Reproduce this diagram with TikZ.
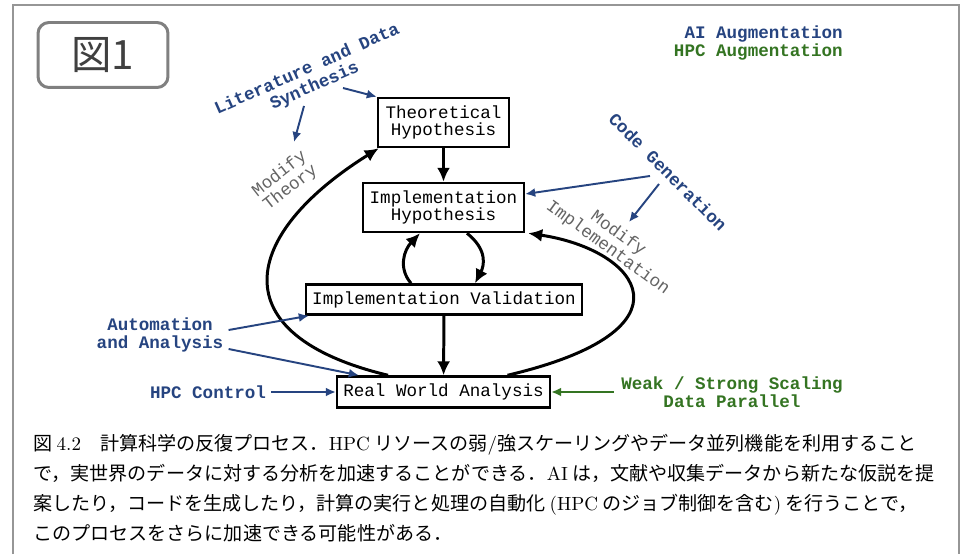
\documentclass[tikz,border=0pt]{standalone}
\usepackage{fontspec}
\setmonofont{Liberation Mono}
\newfontfamily\jpfont{Noto Sans CJK JP}
\usetikzlibrary{arrows.meta}
\definecolor{aiblue}{RGB}{38,68,128}
\definecolor{hpcgreen}{RGB}{52,116,34}
\definecolor{modgray}{RGB}{100,100,100}
\definecolor{framegray}{RGB}{150,150,150}

\begin{document}
\begin{tikzpicture}[x=0.02cm,y=-0.02cm]
		\tikzset{stepbox/.style={draw,line width=1.4pt,inner sep=0pt,align=center,font=\ttfamily\fontsize{10}{9.8}\selectfont},
			flow/.style={-{Latex[length=2.8mm,width=2.6mm]},line width=1.7pt},
			aiarrow/.style={-{Latex[length=2mm,width=1.8mm]},line width=1.1pt,aiblue},
			hpcarrow/.style={-{Latex[length=2mm,width=1.8mm]},line width=1.1pt,hpcgreen},
			ailabel/.style={text=aiblue,align=center,inner sep=0pt,font=\ttfamily\bfseries\fontsize{10}{10.4}\selectfont},
			hpclabel/.style={text=hpcgreen,align=center,inner sep=0pt,font=\ttfamily\bfseries\fontsize{10}{10.4}\selectfont},
			modlabel/.style={text=modgray,align=center,inner sep=0pt,font=\ttfamily\fontsize{10}{10}\selectfont}};
		\useasboundingbox (0,0) rectangle (966,554);
		\fill[white] (0,0) rectangle (966,554);
		% outer frame and figure tag
		\draw[framegray,line width=1.2pt] (13,554) -- (13,5) -- (959,5) -- (959,554);
		\node[draw=gray,line width=1.7pt,rounded corners=2.2mm,minimum width=26mm,minimum height=13mm,text=black!75,font=\jpfont\fontsize{23}{23}\selectfont] (tag) at (103,55) {図1};
		% legend
		\node[anchor=north east,align=right,inner sep=0pt,font=\ttfamily\bfseries\fontsize{10}{10.2}\selectfont] (legend) at (843,25) {\textcolor{aiblue}{AI Augmentation}\\\textcolor{hpcgreen}{HPC Augmentation}};
		% process boxes
		\node[stepbox,minimum width=26.2mm,minimum height=9.8mm] (th) at (443.5,122.5) {Theoretical\\Hypothesis};
		\node[stepbox,minimum width=32.2mm,minimum height=9.8mm] (ih) at (443.5,207.5) {Implementation\\Hypothesis};
		\node[stepbox,minimum width=55.2mm,minimum height=6mm] (iv) at (444,299.5) {Implementation Validation};
		\node[stepbox,minimum width=42.6mm,minimum height=6.2mm] (rw) at (443.5,392) {Real World Analysis};
		\draw[flow] (th) -- (ih);
		\draw[flow] (iv) -- (rw);
		\draw[flow] ([xshift=-6.6mm]iv.north) .. controls (398,268) and (404,250) .. ([xshift=-4.7mm]ih.south);
		\draw[flow] ([xshift=4.7mm]ih.south) .. controls (488,250) and (484,266) .. ([xshift=6.2mm]iv.north);
		\draw[flow] ([xshift=-11.1mm]rw.north) .. controls (220,335) and (240,235) .. ([xshift=0.4mm]th.south west);
		\draw[flow] ([xshift=12.8mm]rw.north) .. controls (700,330) and (640,250) .. ([xshift=0.6mm]ih.south east);
		% side labels
		\node[modlabel,rotate=38] (mt) at (285,181) {Modify\\Theory};
		\node[modlabel,rotate=-36] (mi) at (613,241) {Modify\\Implementation};
		\node[ailabel,rotate=24] (lit) at (311,78) {Literature and Data\\Synthesis};
		\node[ailabel,rotate=-45] (cg) at (668,172) {Code Generation};
		\node[ailabel] (aut) at (160,335) {Automation\\and Analysis};
		\node[ailabel] (hpcc) at (208,392) {HPC Control};
		\node[hpclabel] (weak) at (732,392) {Weak / Strong Scaling\\Data Parallel};
		\coordinate (lit1) at (343,88);
		\coordinate (lit2) at (304,106);
		\coordinate (mt1) at (294,142);
		\coordinate (cg1) at (650,176);
		\coordinate (cg2) at (659,184);
		\coordinate (mi1) at (629,222);
		\draw[aiarrow] (lit1) -- (th.north west);
		\draw[aiarrow] (lit2) -- (mt1);
		\draw[aiarrow] (cg1) -- ([yshift=2.7mm]ih.east);
		\draw[aiarrow] (cg2) -- (mi1);
		\draw[aiarrow] ([xshift=1mm,yshift=1mm]aut.east) -- ([xshift=0.8mm]iv.south west);
		\draw[aiarrow] ([xshift=1mm,yshift=-2.8mm]aut.east) -- ([xshift=4.6mm]rw.north west);
		\draw[aiarrow] ([xshift=1mm]hpcc.east) -- (rw.west);
		\draw[hpcarrow] ([xshift=-1.4mm]weak.west) -- (rw.east);
		% caption
		\node[anchor=north west,align=left,inner sep=0pt,font=\jpfont\fontsize{10.85}{17}\selectfont] (cap) at (33,434) {図 {\rmfamily 4.2}\quad 計算科学の反復プロセス．{\rmfamily HPC} リソースの弱{\rmfamily /}強スケーリングやデータ並列機能を利用すること\\
で，実世界のデータに対する分析を加速することができる．{\rmfamily AI} は，文献や収集データから新たな仮説を提\\
案したり，コードを生成したり，計算の実行と処理の自動化 {\rmfamily (HPC} のジョブ制御を含む{\rmfamily )} を行うことで，\\
このプロセスをさらに加速できる可能性がある．};
	\end{tikzpicture}
\end{document}
